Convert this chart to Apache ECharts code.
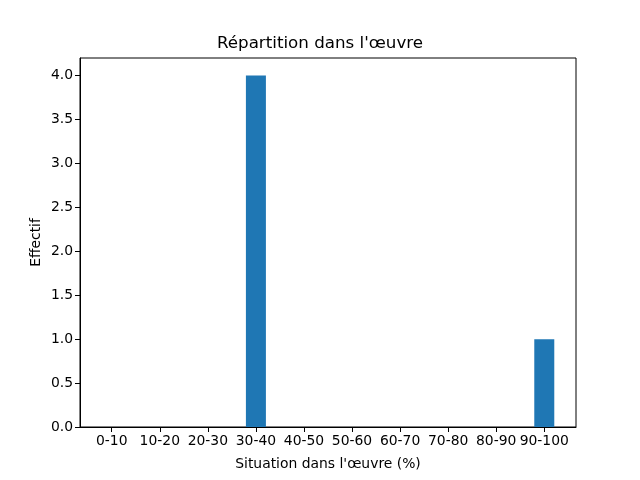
<!DOCTYPE html>
<html>
<head>
<meta charset="utf-8">
<script src="https://cdn.jsdelivr.net/npm/echarts@6/dist/echarts.min.js"></script>
<style>
  html, body { margin: 0; padding: 0; background: #fff; }
  #chart { width: 640px; height: 480px; }
</style>
</head>
<body>
<div id="chart"></div>
<script>
// tranches de la situation dans l'oeuvre
var categories = ["0-10", "10-20", "20-30", "30-40", "40-50", "50-60", "60-70", "70-80", "80-90", "90-100"];
var effectifs = [0, 0, 0, 4, 0, 0, 0, 0, 0, 1];
var yTicks = [0, 0.5, 1, 1.5, 2, 2.5, 3, 3.5, 4];

var font = "DejaVu Sans";
var positions = categories.map(function (c, i) { return i; });

var chart = echarts.init(document.getElementById("chart"));
chart.setOption({
  animation: false,
  backgroundColor: "#fff",
  title: {
    text: "Répartition dans l'œuvre",
    left: "center",
    top: 35,
    padding: 0,
    textStyle: { fontFamily: font, fontSize: 16.7, fontWeight: "normal", color: "#000" }
  },
  grid: {
    left: 80, right: 64, top: 58, bottom: 53,
    show: true, borderColor: "#000", borderWidth: 1, backgroundColor: "transparent"
  },
  xAxis: {
    type: "value",
    min: -0.66,
    max: 9.66,
    name: "Situation dans l'œuvre (%)",
    nameLocation: "middle",
    nameGap: 30,
    nameTextStyle: { fontFamily: font, fontSize: 13.9, color: "#000" },
    axisLine: { show: true, onZero: false, lineStyle: { color: "#000", width: 1 } },
    axisTick: { show: true, inside: false, length: 5, customValues: positions, lineStyle: { color: "#000" } },
    axisLabel: {
      customValues: positions,
      fontFamily: font, fontSize: 13.9, color: "#000", margin: 7,
      formatter: function (v) { return categories[Math.round(v)]; }
    },
    splitLine: { show: false }
  },
  yAxis: {
    type: "value",
    min: 0,
    max: 4.2,
    name: "Effectif",
    nameLocation: "middle",
    nameGap: 37,
    nameMoveOverlap: false,
    nameTextStyle: { fontFamily: font, fontSize: 13.9, color: "#000" },
    axisLine: { show: true, onZero: false, lineStyle: { color: "#000", width: 1 } },
    axisTick: { show: true, inside: false, length: 5, customValues: yTicks, lineStyle: { color: "#000" } },
    axisLabel: {
      customValues: yTicks,
      fontFamily: font, fontSize: 13.9, color: "#000", margin: 7,
      formatter: function (v) { return v.toFixed(1); }
    },
    splitLine: { show: false }
  },
  series: [{
    type: "bar",
    barWidth: 20,
    itemStyle: { color: "#1f77b4" },
    data: effectifs.map(function (v, i) { return [i, v]; })
  }]
});
</script>
</body>
</html>
